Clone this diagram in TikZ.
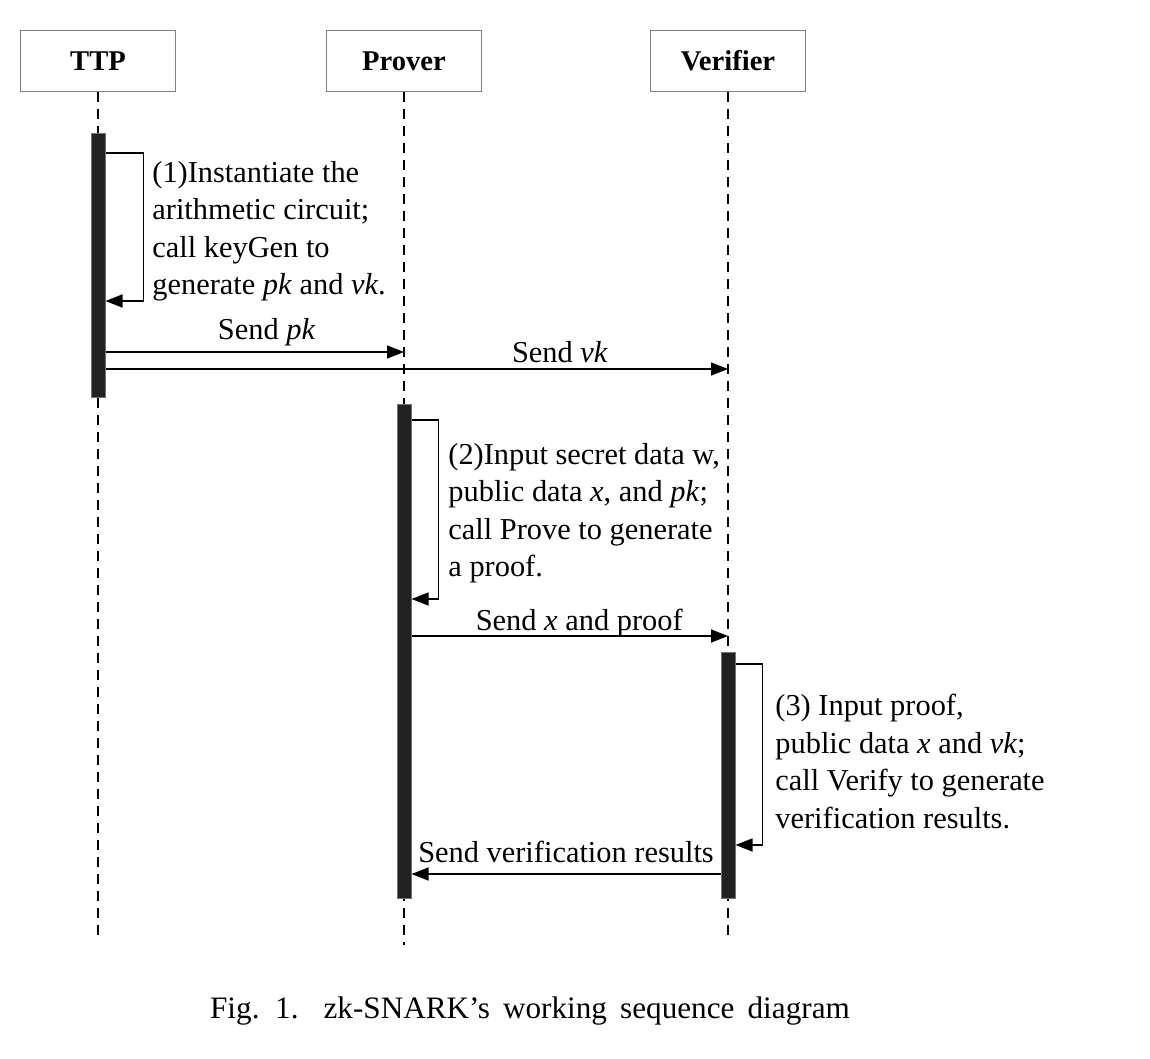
\documentclass[tikz,border=0pt]{standalone}
\usepackage{fontspec}
\setmainfont{Liberation Serif}
\usepackage{tikz}
\usetikzlibrary{arrows.meta,positioning}

\begin{document}
\begin{tikzpicture}[x=0.5pt,y=-0.5pt,font=\fontsize{15.2}{18.75}\selectfont,
  head/.style={draw=black!50,line width=0.75pt,minimum width=77.5pt,minimum height=30.5pt,
    font=\fontsize{14.3}{16}\selectfont\bfseries},
  bar/.style={draw=black!55,fill=black!87,line width=0.5pt,minimum width=7pt,inner sep=0pt},
  life/.style={dash pattern=on 5pt off 3.5pt,line width=0.7pt},
  msg/.style={-{Triangle[length=8.5pt,width=6.5pt]},line width=0.8pt},
  note/.style={align=left,inner sep=0pt,anchor=north west},
  lbl/.style={anchor=base,inner sep=0pt}]
\useasboundingbox (0,0) rectangle (1150,1059);
% lifeline heads
\node[head] (ttp) at (98,61) {TTP};
\node[head] (prover) at (404,61) {Prover};
\node[head] (verifier) at (728,61) {Verifier};
\draw[life] (ttp) -- (ttp |- 0,940);
\draw[life] (prover) -- (prover |- 0,945);
\draw[life] (verifier) -- (verifier |- 0,940);
% activation bars
\node[bar,minimum height=131.5pt] (b1) at (98,265.5) {};
\node[bar,minimum height=247pt] (b2) at (404,651) {};
\node[bar,minimum height=123pt] (b3) at (728,775) {};
% (1) keys
\draw[msg] (b1.east |- 0,153) -- ++(38,0) |- (b1.east |- 0,301);
\node[note] (t1) at (152,161) {(1)Instantiate the\\arithmetic circuit;\\call keyGen to\\generate \textit{pk} and \textit{vk}.};
\draw[msg] (b1.east |- 0,352) -- node[lbl,pos=0.54,yshift=6.5pt] {Send \textit{pk}} (prover |- 0,352);
\draw[msg] (b1.east |- 0,369) -- node[lbl,pos=0.73,yshift=3.5pt] {Send \textit{vk}} (verifier |- 0,369);
% (2) proof
\draw[msg] (b2.east |- 0,420) -- ++(27,0) |- (b2.east |- 0,599);
\node[note] (t2) at (448,443) {(2)Input secret data w,\\public data \textit{x}, and \textit{pk};\\call Prove to generate\\a proof.};
\draw[msg] (b2.east |- 0,636) -- node[lbl,pos=0.53,yshift=3pt] {Send \textit{x} and proof} (verifier |- 0,636);
% (3) verify
\draw[msg] (b3.east |- 0,664) -- ++(27,0) |- (b3.east |- 0,845);
\node[note] (t3) at (775,694) {(3) Input proof,\\public data \textit{x} and \textit{vk};\\call Verify to generate\\verification results.};
\draw[msg] (b3.west |- 0,874) -- node[lbl,pos=0.5,yshift=6pt] {Send verification results} (b2.east |- 0,874);
% caption
\node[lbl,font=\fontsize{15.6}{18}\selectfont] (cap) at (530,1018) {\spaceskip=0.42em Fig. 1.\hspace{0.8em}zk-SNARK's working sequence diagram};
\end{tikzpicture}
\end{document}
